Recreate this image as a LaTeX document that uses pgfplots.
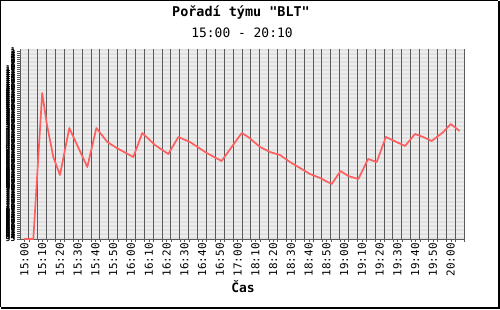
\documentclass[border=0pt]{standalone}
\usepackage{pgfplots}
\pgfplotsset{compat=1.18}
\usepackage{fontspec}
\setmainfont{DejaVu Sans Mono}
\newfontfamily\mono{DejaVu Sans Mono}
\definecolor{stripeL}{HTML}{EEEEEE}
\definecolor{stripeD}{HTML}{E0E0E0}
\definecolor{gridgray}{HTML}{5A5A5A}
\definecolor{linered}{HTML}{FF5F5F}
\begin{document}
\begin{tikzpicture}[x=1bp,y=1bp]
\useasboundingbox (0,0) rectangle (500,309);
\fill[white] (0,0) rectangle (500,309);
\fill[stripeL] (20,70) rectangle (464,260);
\foreach \k in {0,2,...,94} {\fill[stripeD] (20,{260-2*\k-2}) rectangle (464,{260-2*\k});}
\begin{axis}[
  scale only axis,
  width=444bp, height=190bp,
  at={(20bp,70bp)}, anchor=south west,
  xmin=-0.5, xmax=49.5, ymin=0, ymax=95,
  y dir=reverse,
  axis x line*=bottom, axis y line*=left,
  axis line style={-, draw=gridgray},
  xtick={0,2,...,48},
  xticklabels={15:00,15:10,15:20,15:30,15:40,15:50,16:00,16:10,16:20,16:30,16:40,16:50,17:00,18:10,18:20,18:30,18:40,18:50,19:00,19:10,19:20,19:30,19:40,19:50,20:00},
  minor xtick={0.5,1.5,...,49.5},
  xminorgrids=true,
  minor grid style={draw=gridgray, line width=1bp},
  xticklabel style={rotate=90, anchor=east, font=\fontsize{11}{11}\selectfont\mono, inner sep=1bp},
  ytick={1,2,...,95},
  yticklabel style={font=\fontsize{8}{8}\selectfont\bfseries\mono, inner sep=1.5bp},
  /pgf/number format/assume math mode=true,
  tick style={draw=gridgray},
  major tick length=3bp, minor tick length=3bp,
  tick align=outside,
  clip=true,
]
\addplot[color=linered, line width=1.7bp, line join=round] coordinates {
(0,95)(1,95)(2,22)(2.5,37)(3.25,54)(4,63)(5.05,39.5)(7.08,59)(8.1,39.5)(9.33,46.5)(10.39,49.5)(12.26,54)(13.27,42)(14.7,48)(16.2,52.5)(17.33,44)(18.64,46.5)(20.53,52)(22.2,56)(24.47,42)(25.2,44)(26.53,49)(27.65,51.5)(28.78,53)(29.9,56.5)(31.03,59.5)(32.16,62.5)(33.28,64.5)(34.6,67.5)(35.6,61)(36.47,63.5)(37.6,65)(38.7,55)(39.67,56.5)(40.7,44)(41.9,46.5)(42.86,48.5)(43.98,42.5)(44.9,44)(45.86,46)(47.17,41.5)(48,37.5)(49,41)
};
\end{axis}
\node[font=\fontsize{13.5}{13.5}\selectfont\bfseries\mono] at (241,296) {Pořadí týmu "BLT"};
\node[font=\fontsize{13}{13}\selectfont\mono] at (242,276.5) {15:00 - 20:10};
\node[font=\fontsize{13}{13}\selectfont\bfseries\mono] at (243,22) {Čas};
\draw[black, line width=1bp] (0.5,2) -- (0.5,308.5) -- (498,308.5);
\fill[black] (497.5,0) rectangle (500,308);
\fill[black] (1,0) rectangle (500,2.5);
\end{tikzpicture}
\end{document}
